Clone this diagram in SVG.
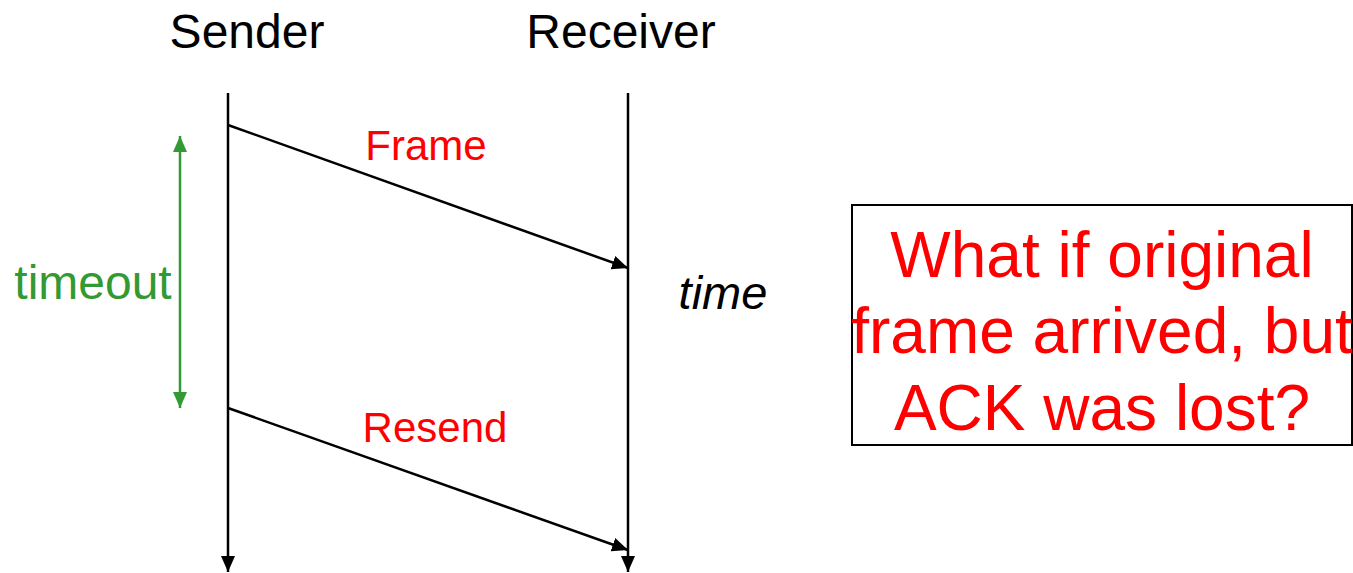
<svg xmlns="http://www.w3.org/2000/svg" width="1353" height="573" viewBox="0 0 1353 573">
<style>
text{font-family:"Liberation Sans",Arial,sans-serif}
.ln{stroke:#000;stroke-width:2.5;fill:none}
.red{fill:#ff0000}
</style>
<defs>
<marker id="ah" viewBox="0 0 16 14" refX="16" refY="7" markerWidth="16" markerHeight="14" orient="auto" markerUnits="userSpaceOnUse"><path d="M0,0 L16,7 L0,14 z" fill="#000"/></marker>
<marker id="ag" viewBox="0 0 16 14" refX="16" refY="7" markerWidth="16" markerHeight="14" orient="auto-start-reverse" markerUnits="userSpaceOnUse"><path d="M0,0 L16,7 L0,14 z" fill="#339933"/></marker>
</defs>
<rect width="1353" height="573" fill="#fff"/>
<g id="sender">
<text x="247" y="48" font-size="48" text-anchor="middle">Sender</text>
</g>
<g id="receiver">
<text x="621" y="48" font-size="48" text-anchor="middle">Receiver</text>
</g>
<g id="connectors">
<line class="ln" x1="228" y1="93" x2="228" y2="572" marker-end="url(#ah)"/>
<line class="ln" x1="628" y1="93" x2="628" y2="572" marker-end="url(#ah)"/>
<line class="ln" x1="228" y1="125" x2="628" y2="268" marker-end="url(#ah)"/>
<line class="ln" x1="228" y1="408" x2="628" y2="550" marker-end="url(#ah)"/>
<line x1="180" y1="136" x2="180" y2="408" stroke="#339933" stroke-width="2.5" marker-start="url(#ag)" marker-end="url(#ag)"/>
</g>
<g id="labels">
<text class="red" x="426" y="160" font-size="42" text-anchor="middle">Frame</text>
<text class="red" x="435" y="442" font-size="42" text-anchor="middle">Resend</text>
<text x="93" y="299" font-size="48" text-anchor="middle" fill="#339933">timeout</text>
<text x="723" y="309" font-size="47" text-anchor="middle" font-style="italic">time</text>
</g>
<g id="question">
<rect x="852" y="205" width="500" height="240" fill="#fff" stroke="#000" stroke-width="2"/>
<text class="red" font-size="64" text-anchor="middle"><tspan x="1102" y="277">What if original</tspan><tspan x="1102" y="353">frame arrived, but</tspan><tspan x="1102" y="430">ACK was lost?</tspan></text>
</g>
</svg>
